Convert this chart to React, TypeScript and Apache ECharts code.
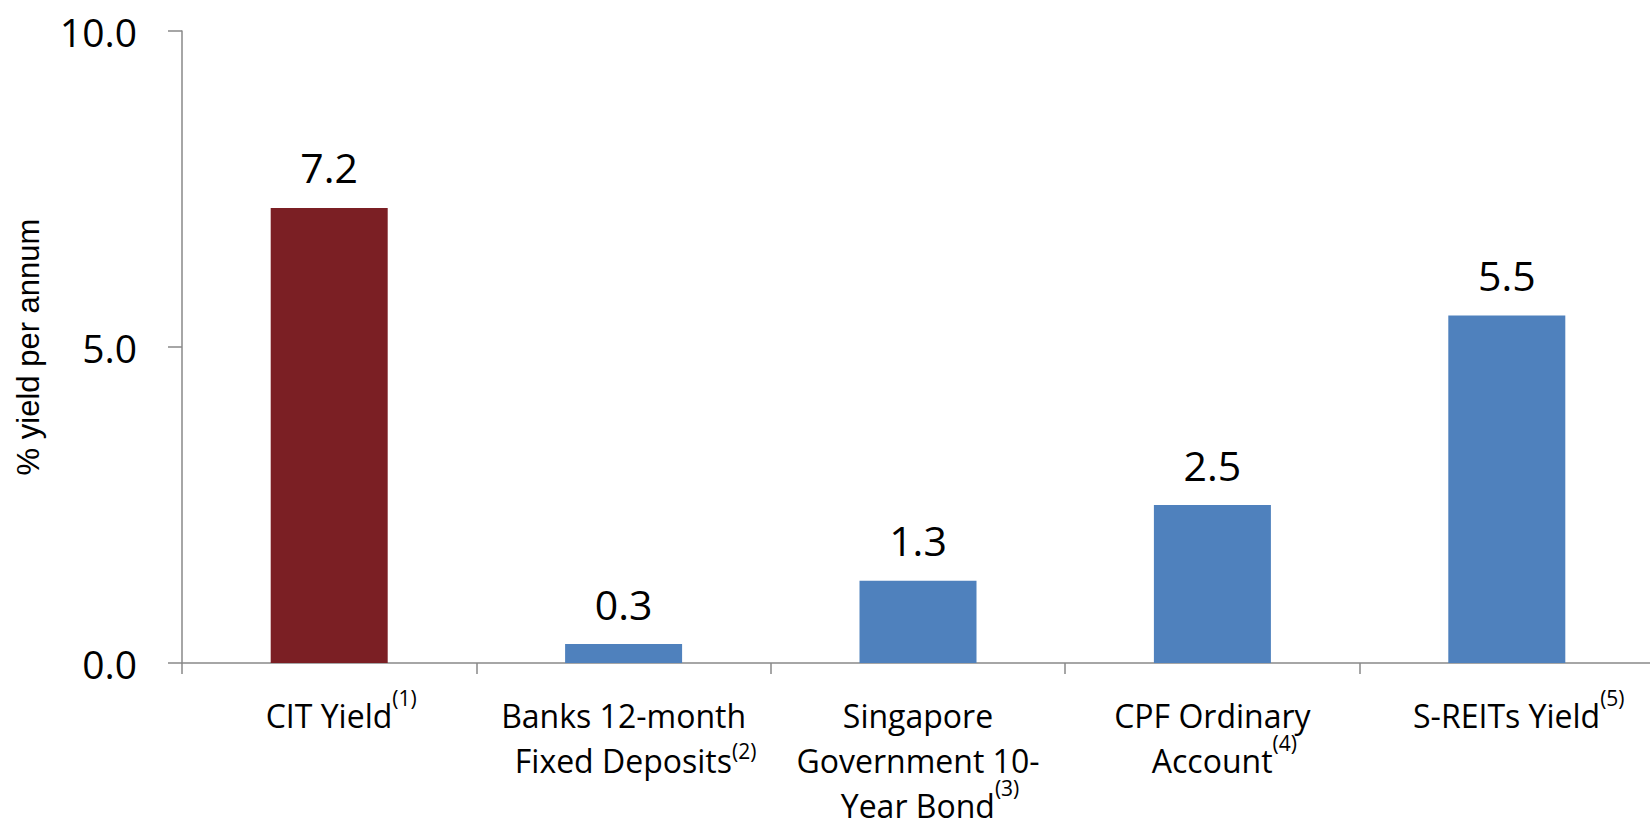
import React, { useEffect, useRef } from "react";
import * as echarts from "echarts";

const categories = [
  "CIT Yield",
  "Banks 12-month\nFixed Deposits",
  "Singapore\nGovernment 10-\nYear Bond",
  "CPF Ordinary\nAccount",
  "S-REITs Yield",
];
const footnotes = ["(1)", "(2)", "(3)", "(4)", "(5)"];
const values = [7.2, 0.3, 1.3, 2.5, 5.5];
const barColors = ["#7B1F24", "#4F81BD", "#4F81BD", "#4F81BD", "#4F81BD"];
const yAxisName = "% yield per annum";

const FONT = "'Open Sans', sans-serif";

export default function App() {
  const ref = useRef<HTMLDivElement>(null);

  useEffect(() => {
    if (!ref.current) return;
    const chart = echarts.init(ref.current, null, { renderer: "svg" });
    const axisColor = "#898989";
    chart.setOption({
      animation: false,
      backgroundColor: "#ffffff",
      grid: { left: 182, right: -4, top: 31, bottom: 158, containLabel: false, outerBoundsMode: "none" },
      xAxis: {
        type: "category",
        data: categories,
        axisLine: { show: true, lineStyle: { color: axisColor, width: 1.5 } },
        axisTick: { show: true, length: 11, alignWithLabel: false, interval: 0, lineStyle: { color: axisColor, width: 1.5 } },
        axisLabel: {
          interval: 0,
          margin: 30,
          color: "#000",
          formatter: (value: string, index: number) => {
            const lines = value.split("\n");
            const supStyle = index === 1 ? "s2" : "s";
            return lines
              .map((ln, i) =>
                i === lines.length - 1
                  ? `{ap|${ln}}{${supStyle}|${footnotes[index]}}`
                  : `{a|${ln}}`
              )
              .join("\n");
          },
          rich: {
            a: { fontFamily: FONT, fontSize: 32, lineHeight: 45, color: "#000" },
            ap: { fontFamily: FONT, fontSize: 32, lineHeight: 45, color: "#000", padding: [0, 0, 0, 24] },
            s: { fontFamily: FONT, fontSize: 21, lineHeight: 2, color: "#000", padding: [0, 0, 35, 0] },
            s2: { fontFamily: FONT, fontSize: 21, lineHeight: 2, color: "#000", padding: [0, 0, 20, 0] },
          },
        },
      },
      yAxis: {
        type: "value",
        min: 0,
        max: 10,
        interval: 5,
        name: yAxisName,
        nameLocation: "middle",
        nameGap: 138,
        nameRotate: 90,
        nameTextStyle: { fontFamily: "'Liberation Sans', Arial, sans-serif", fontSize: 31, color: "#000" },
        axisLine: { show: true, lineStyle: { color: axisColor, width: 1.5 } },
        axisTick: { show: true, length: 14, lineStyle: { color: axisColor, width: 1.5 } },
        splitLine: { show: false },
        axisLabel: {
          margin: 45,
          fontFamily: FONT,
          fontSize: 39,
          color: "#000",
          formatter: (v: number) => v.toFixed(1),
        },
      },
      series: [
        {
          type: "bar",
          barWidth: 117,
          data: values.map((v, i) => ({ value: v, itemStyle: { color: barColors[i] } })),
          label: {
            show: true,
            position: "top",
            distance: 20,
            fontFamily: FONT,
            fontSize: 41,
            color: "#000",
            formatter: (p: any) => Number(p.value).toFixed(1),
          },
        },
      ],
    });
    return () => chart.dispose();
  }, []);

  return (
    <div
      ref={ref}
      style={{ position: "absolute", left: 0, top: 0, width: 1650, height: 821, background: "#fff" }}
    />
  );
}
